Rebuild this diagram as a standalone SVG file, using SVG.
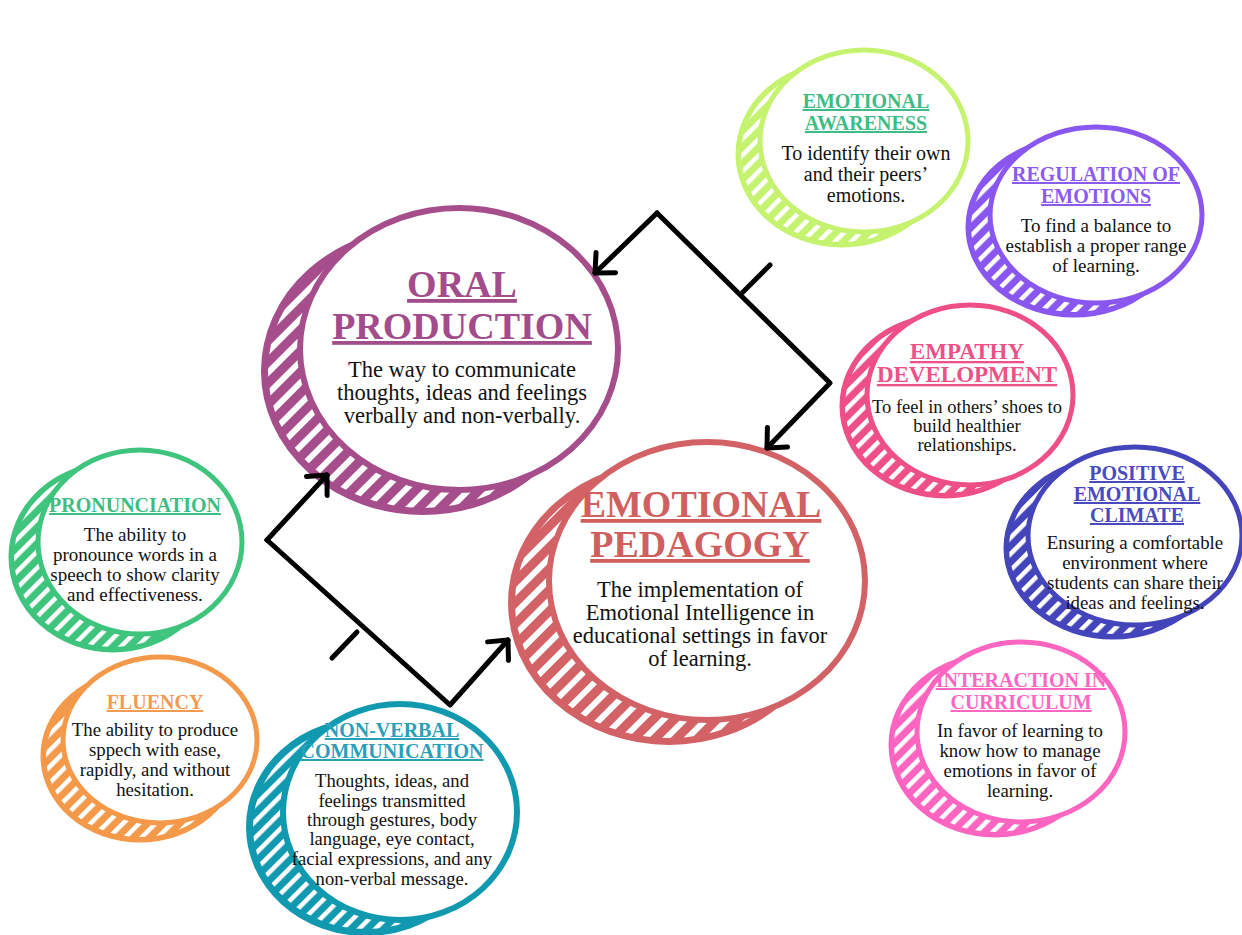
<svg xmlns="http://www.w3.org/2000/svg" width="1242" height="935" viewBox="0 0 1242 935">
<defs>
<pattern id="hatchL" patternUnits="userSpaceOnUse" width="15" height="15" patternTransform="rotate(45)"><rect x="0" y="0" width="6" height="15" fill="#fff"/></pattern>
<pattern id="hatchS" patternUnits="userSpaceOnUse" width="11.5" height="11.5" patternTransform="rotate(45)"><rect x="0" y="0" width="4.5" height="11.5" fill="#fff"/></pattern>
<marker id="chev" markerUnits="userSpaceOnUse" markerWidth="40" markerHeight="40" refX="0" refY="0" orient="auto" overflow="visible" viewBox="-20 -20 40 40">
<path d="M -15 -14 L 0 0 L -15 14" fill="none" stroke="#000" stroke-width="5" stroke-linecap="round" stroke-linejoin="round"/>
</marker>
<style>
.t{font-family:"Liberation Serif","Times New Roman",serif;font-weight:bold;text-anchor:middle;text-decoration:underline;}
.d{font-family:"Liberation Serif","Times New Roman",serif;text-anchor:middle;fill:#111;}
.in{fill:#fff;}
.con{fill:none;stroke:#000;stroke-width:5;stroke-linecap:round;stroke-linejoin:round;}
</style>
</defs>
<rect width="1242" height="935" fill="#fff"/>

<!-- ORAL PRODUCTION -->
<g id="oral-production">
<ellipse cx="423" cy="371" rx="159" ry="141" fill="#a64d8c" stroke="#a64d8c" stroke-width="6"/>
<ellipse cx="423" cy="371" rx="155" ry="137" fill="url(#hatchL)"/>
<ellipse class="in" cx="459" cy="349" rx="159" ry="141" stroke="#a64d8c" stroke-width="6"/>
<text class="t" x="462" y="297" font-size="38" fill="#a34c8b">ORAL</text>
<text class="t" x="462" y="339" font-size="38" fill="#a34c8b">PRODUCTION</text>
<text class="d" font-size="22.5"><tspan x="462" y="377">The way to communicate</tspan><tspan x="462" y="400">thoughts, ideas and feelings</tspan><tspan x="462" y="423">verbally and non-verbally.</tspan></text>
</g>

<!-- EMOTIONAL PEDAGOGY -->
<g id="emotional-pedagogy">
<ellipse cx="669" cy="603" rx="158" ry="139" fill="#d36266" stroke="#d36266" stroke-width="6"/>
<ellipse cx="669" cy="603" rx="154" ry="135" fill="url(#hatchL)"/>
<ellipse class="in" cx="707" cy="581" rx="158" ry="139" stroke="#d36266" stroke-width="6"/>
<text class="t" x="701" y="517" font-size="38" fill="#d0605f">EMOTIONAL</text>
<text class="t" x="700" y="557" font-size="38" fill="#d0605f">PEDAGOGY</text>
<text class="d" font-size="22.5"><tspan x="700" y="597">The implementation of</tspan><tspan x="700" y="620">Emotional Intelligence in</tspan><tspan x="700" y="643">educational settings in favor</tspan><tspan x="700" y="666">of learning.</tspan></text>
</g>

<!-- EMOTIONAL AWARENESS -->
<g id="emotional-awareness">
<ellipse cx="842" cy="154" rx="104" ry="91" fill="#c5f36f" stroke="#c5f36f" stroke-width="5"/>
<ellipse cx="842" cy="154" rx="101" ry="88" fill="url(#hatchS)"/>
<ellipse class="in" cx="864" cy="141" rx="104" ry="91" stroke="#c5f36f" stroke-width="5"/>
<text class="t" x="866" y="108" font-size="20" fill="#3ebc86">EMOTIONAL</text>
<text class="t" x="866" y="130" font-size="20" fill="#3ebc86">AWARENESS</text>
<text class="d" font-size="20"><tspan x="866" y="160">To identify their own</tspan><tspan x="866" y="181">and their peers’</tspan><tspan x="866" y="202">emotions.</tspan></text>
</g>

<!-- REGULATION OF EMOTIONS -->
<g id="regulation-of-emotions">
<ellipse cx="1074" cy="227" rx="106" ry="88" fill="#8a56f0" stroke="#8a56f0" stroke-width="5"/>
<ellipse cx="1074" cy="227" rx="103" ry="85" fill="url(#hatchS)"/>
<ellipse class="in" cx="1096" cy="215" rx="106" ry="88" stroke="#8a56f0" stroke-width="5"/>
<text class="t" x="1096" y="181" font-size="20" fill="#8c5af0">REGULATION OF</text>
<text class="t" x="1096" y="203" font-size="20" fill="#8c5af0">EMOTIONS</text>
<text class="d" font-size="19"><tspan x="1096" y="232">To find a balance to</tspan><tspan x="1096" y="252">establish a proper range</tspan><tspan x="1096" y="272">of learning.</tspan></text>
</g>

<!-- EMPATHY DEVELOPMENT -->
<g id="empathy-development">
<ellipse cx="945" cy="406" rx="103" ry="90" fill="#ee4f86" stroke="#ee4f86" stroke-width="5"/>
<ellipse cx="945" cy="406" rx="100" ry="87" fill="url(#hatchS)"/>
<ellipse class="in" cx="970" cy="395" rx="103" ry="90" stroke="#ee4f86" stroke-width="5"/>
<text class="t" x="967" y="359" font-size="23" fill="#ee5088">EMPATHY</text>
<text class="t" x="967" y="382" font-size="23" fill="#ee5088">DEVELOPMENT</text>
<text class="d" font-size="18.5"><tspan x="967" y="413">To feel in others’ shoes to</tspan><tspan x="967" y="432">build healthier</tspan><tspan x="967" y="451">relationships.</tspan></text>
</g>

<!-- POSITIVE EMOTIONAL CLIMATE -->
<g id="positive-emotional-climate">
<ellipse cx="1113" cy="548" rx="107" ry="89" fill="#4444bb" stroke="#4444bb" stroke-width="5"/>
<ellipse cx="1113" cy="548" rx="104" ry="86" fill="url(#hatchS)"/>
<ellipse class="in" cx="1135" cy="536" rx="107" ry="89" stroke="#4444bb" stroke-width="5"/>
<text class="t" x="1137" y="480" font-size="20" fill="#4a4ac0">POSITIVE</text>
<text class="t" x="1137" y="501" font-size="20" fill="#4a4ac0">EMOTIONAL</text>
<text class="t" x="1137" y="522" font-size="20" fill="#4a4ac0">CLIMATE</text>
<text class="d" font-size="18.8"><tspan x="1135" y="549">Ensuring a comfortable</tspan><tspan x="1135" y="569">environment where</tspan><tspan x="1135" y="589">students can share their</tspan><tspan x="1135" y="609">ideas and feelings.</tspan></text>
</g>

<!-- INTERACTION IN CURRICULUM -->
<g id="interaction-in-curriculum">
<ellipse cx="995" cy="745" rx="104" ry="90" fill="#fd65c0" stroke="#fd65c0" stroke-width="5"/>
<ellipse cx="995" cy="745" rx="101" ry="87" fill="url(#hatchS)"/>
<ellipse class="in" cx="1021" cy="732" rx="104" ry="90" stroke="#fd65c0" stroke-width="5"/>
<text class="t" x="1021" y="687" font-size="20" fill="#ff66c4">INTERACTION IN</text>
<text class="t" x="1021" y="709" font-size="20" fill="#ff66c4">CURRICULUM</text>
<text class="d" font-size="18.8"><tspan x="1020" y="737">In favor of learning to</tspan><tspan x="1020" y="757">know how to manage</tspan><tspan x="1020" y="777">emotions in favor of</tspan><tspan x="1020" y="797">learning.</tspan></text>
</g>

<!-- PRONUNCIATION -->
<g id="pronunciation">
<ellipse cx="113" cy="557" rx="102" ry="93" fill="#3ec47c" stroke="#3ec47c" stroke-width="5"/>
<ellipse cx="113" cy="557" rx="99" ry="90" fill="url(#hatchS)"/>
<ellipse class="in" cx="140" cy="542" rx="102" ry="92" stroke="#3ec47c" stroke-width="5"/>
<text class="t" x="135" y="512" font-size="20" fill="#3ebd82">PRONUNCIATION</text>
<text class="d" font-size="19"><tspan x="135" y="541">The ability to</tspan><tspan x="135" y="561">pronounce words in a</tspan><tspan x="135" y="581">speech to show clarity</tspan><tspan x="135" y="601">and effectiveness.</tspan></text>
</g>

<!-- FLUENCY -->
<g id="fluency">
<ellipse cx="140" cy="756" rx="97" ry="84" fill="#f4994a" stroke="#f4994a" stroke-width="5"/>
<ellipse cx="140" cy="756" rx="94" ry="81" fill="url(#hatchS)"/>
<ellipse class="in" cx="160" cy="740" rx="97" ry="83" stroke="#f4994a" stroke-width="5"/>
<text class="t" x="155" y="709" font-size="20" fill="#f39a52">FLUENCY</text>
<text class="d" font-size="18.8"><tspan x="155" y="736">The ability to produce</tspan><tspan x="155" y="756">sppech with ease,</tspan><tspan x="155" y="776">rapidly, and without</tspan><tspan x="155" y="796">hesitation.</tspan></text>
</g>

<!-- NON-VERBAL COMMUNICATION -->
<g id="non-verbal-communication">
<ellipse cx="366" cy="827" rx="117" ry="106" fill="#1199b0" stroke="#1199b0" stroke-width="6"/>
<ellipse cx="366" cy="827" rx="113" ry="102" fill="url(#hatchS)"/>
<ellipse class="in" cx="400" cy="812" rx="117" ry="108" stroke="#1199b0" stroke-width="6"/>
<text class="t" x="392" y="737" font-size="20" fill="#2aa0b8">NON-VERBAL</text>
<text class="t" x="392" y="758" font-size="20" fill="#2aa0b8">COMMUNICATION</text>
<text class="d" font-size="18.6"><tspan x="392" y="787">Thoughts, ideas, and</tspan><tspan x="392" y="807">feelings transmitted</tspan><tspan x="392" y="826">through gestures, body</tspan><tspan x="392" y="845">language, eye contact,</tspan><tspan x="392" y="865">facial expressions, and any</tspan><tspan x="392" y="885">non-verbal message.</tspan></text>
</g>

<!-- CONNECTORS -->
<g id="connectors">
<path class="con" d="M 657 213 L 595 273" marker-end="url(#chev)"/>
<path class="con" d="M 657 213 L 830 383 L 767 448" marker-end="url(#chev)"/>
<path class="con" d="M 743 292 L 770 265"/>
<path class="con" d="M 267 540 L 327 475" marker-end="url(#chev)"/>
<path class="con" d="M 267 540 L 450 705 L 508 640" marker-end="url(#chev)"/>
<path class="con" d="M 357 632 L 332 658"/>
</g>
</svg>
